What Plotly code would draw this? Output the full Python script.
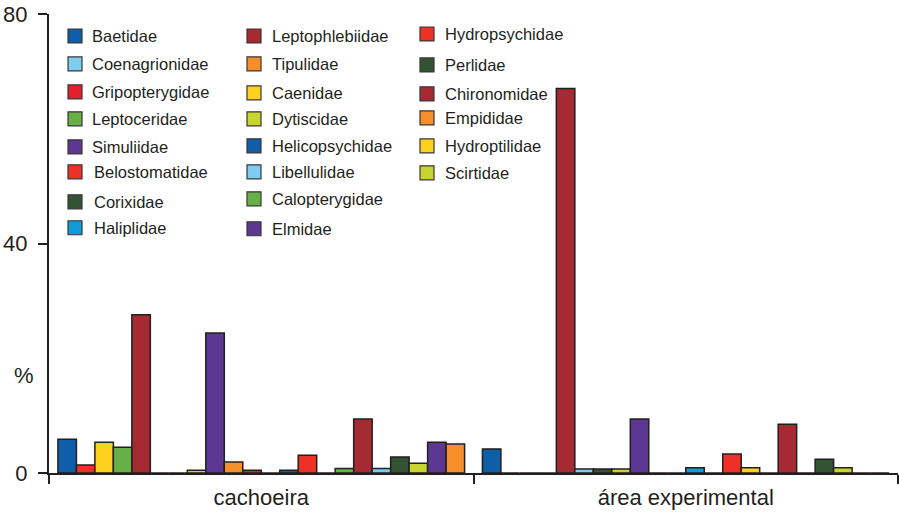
import plotly.graph_objects as go

# ---- data (alphabetical order = bar order within each group) ----
groups = ["cachoeira", "área experimental"]
families = [
    "Baetidae", "Belostomatidae", "Caenidae", "Calopterygidae", "Chironomidae",
    "Coenagrionidae", "Corixidae", "Dytiscidae", "Elmidae", "Empididae",
    "Gripopterygidae", "Haliplidae", "Helicopsychidae", "Hydropsychidae",
    "Hydroptilidae", "Leptoceridae", "Leptophlebiidae", "Libellulidae",
    "Perlidae", "Scirtidae", "Simuliidae", "Tipulidae",
]
cachoeira = [5.9, 1.4, 5.35, 4.5, 27.6, 0, 0, 0.5, 24.4, 1.9,
             0.5, 0, 0.5, 3.1, 0, 0.8, 9.4, 0.8, 2.8, 1.7, 5.35, 5.05]
area_experimental = [4.2, 0, 0, 0, 67.0, 0.7, 0.7, 0.7, 9.4, 0,
                     0, 0.9, 0, 3.3, 0.9, 0, 8.5, 0, 2.4, 0.9, 0, 0]
y_ticks = [0, 40, 80]

# legend layout (column-major as in the original figure)
legend_cols = [
    ["Baetidae", "Coenagrionidae", "Gripopterygidae", "Leptoceridae",
     "Simuliidae", "Belostomatidae", "Corixidae", "Haliplidae"],
    ["Leptophlebiidae", "Tipulidae", "Caenidae", "Dytiscidae",
     "Helicopsychidae", "Libellulidae", "Calopterygidae", "Elmidae"],
    ["Hydropsychidae", "Perlidae", "Chironomidae", "Empididae",
     "Hydroptilidae", "Scirtidae"],
]

# ---- styles ----
colors = {
    "Baetidae": "#0f5ea8", "Helicopsychidae": "#0f5ea8",
    "Coenagrionidae": "#7dcdf0", "Libellulidae": "#7dcdf0",
    "Gripopterygidae": "#e3202b",
    "Belostomatidae": "#ee3127", "Hydropsychidae": "#ee3127",
    "Leptoceridae": "#66b047", "Calopterygidae": "#66b047",
    "Simuliidae": "#5c3892", "Elmidae": "#5c3892",
    "Corixidae": "#325433", "Perlidae": "#325433",
    "Haliplidae": "#0e9bd7",
    "Leptophlebiidae": "#a52a31", "Chironomidae": "#a52a31",
    "Tipulidae": "#f48f2c", "Empididae": "#f48f2c",
    "Caenidae": "#fcd21f", "Hydroptilidae": "#fcd21f",
    "Dytiscidae": "#c6d52f", "Scirtidae": "#c6d52f",
}
INK = "#231f20"
FONT = "Liberation Sans, Arial, sans-serif"
W, H = 899, 513
ML, MR, MT, MB = 49, 1, 14, 39.5
PW, PH = W - ML - MR, H - MT - MB


def px_x(px):
    return (px - ML) / PW


def px_y(py):
    return (H - MB - py) / PH


fig = go.Figure()
for i, fam in enumerate(families):
    fig.add_trace(go.Bar(
        name=fam, x=groups, y=[cachoeira[i], area_experimental[i]],
        marker=dict(color=colors[fam], line=dict(color=INK, width=1.5)),
        showlegend=False,
    ))

# manual legend
col_swatch_x = [68, 247, 420]
col_text_x = [90, 270, 443]
row_y = [
    [36, 64, 92, 119, 147, 172, 202, 228],
    [36, 64, 93, 119, 146, 172, 199, 229],
    [34, 65, 94, 118, 146, 173],
]
shapes = []
annotations = []
for c, names in enumerate(legend_cols):
    for r, fam in enumerate(names):
        sx = col_swatch_x[c]
        tx = col_text_x[c]
        if c == 0 and r >= 5:
            tx += 2
        cy = row_y[c][r]
        shapes.append(dict(
            type="rect", xref="paper", yref="paper",
            x0=px_x(sx), x1=px_x(sx + 14), y0=px_y(cy + 7), y1=px_y(cy - 7),
            fillcolor=colors[fam], line=dict(color="#3a3536", width=1.2),
        ))
        annotations.append(dict(
            text=fam, xref="paper", yref="paper", x=px_x(tx), y=px_y(cy + 0.5),
            xanchor="left", yanchor="middle", showarrow=False,
            font=dict(size=16.5, color=INK, family=FONT),
        ))

annotations.append(dict(
    text="%", xref="paper", yref="y", x=px_x(24), y=17, xanchor="center",
    yanchor="middle", showarrow=False,
    font=dict(size=22, color=INK, family=FONT),
))

fig.update_layout(
    width=W, height=H,
    margin=dict(l=ML, r=MR, t=MT, b=MB, pad=0),
    paper_bgcolor="white", plot_bgcolor="white",
    barmode="group", bargap=0.042, bargroupgap=0,
    font=dict(family=FONT, color=INK),
    shapes=shapes, annotations=annotations,
    xaxis=dict(
        type="category", showline=True, linecolor=INK, linewidth=2,
        ticks="outside", tickson="boundaries", ticklen=9, tickwidth=2,
        tickcolor=INK, showgrid=False, tickfont=dict(size=22, color=INK),
        ticklabelstandoff=4, automargin=False,
    ),
    yaxis=dict(
        range=[0, 80], tickvals=y_ticks, showline=True, linecolor=INK,
        linewidth=2, ticks="outside", ticklen=9, tickwidth=2, tickcolor=INK,
        showgrid=False, zeroline=False, tickfont=dict(size=22, color=INK),
        ticklabelstandoff=6, automargin=False,
    ),
)

fig.write_html(
    "out.html",
    config={"displayModeBar": False},
    post_script="document.body.style.margin='0';document.body.style.overflow='hidden';",
)
